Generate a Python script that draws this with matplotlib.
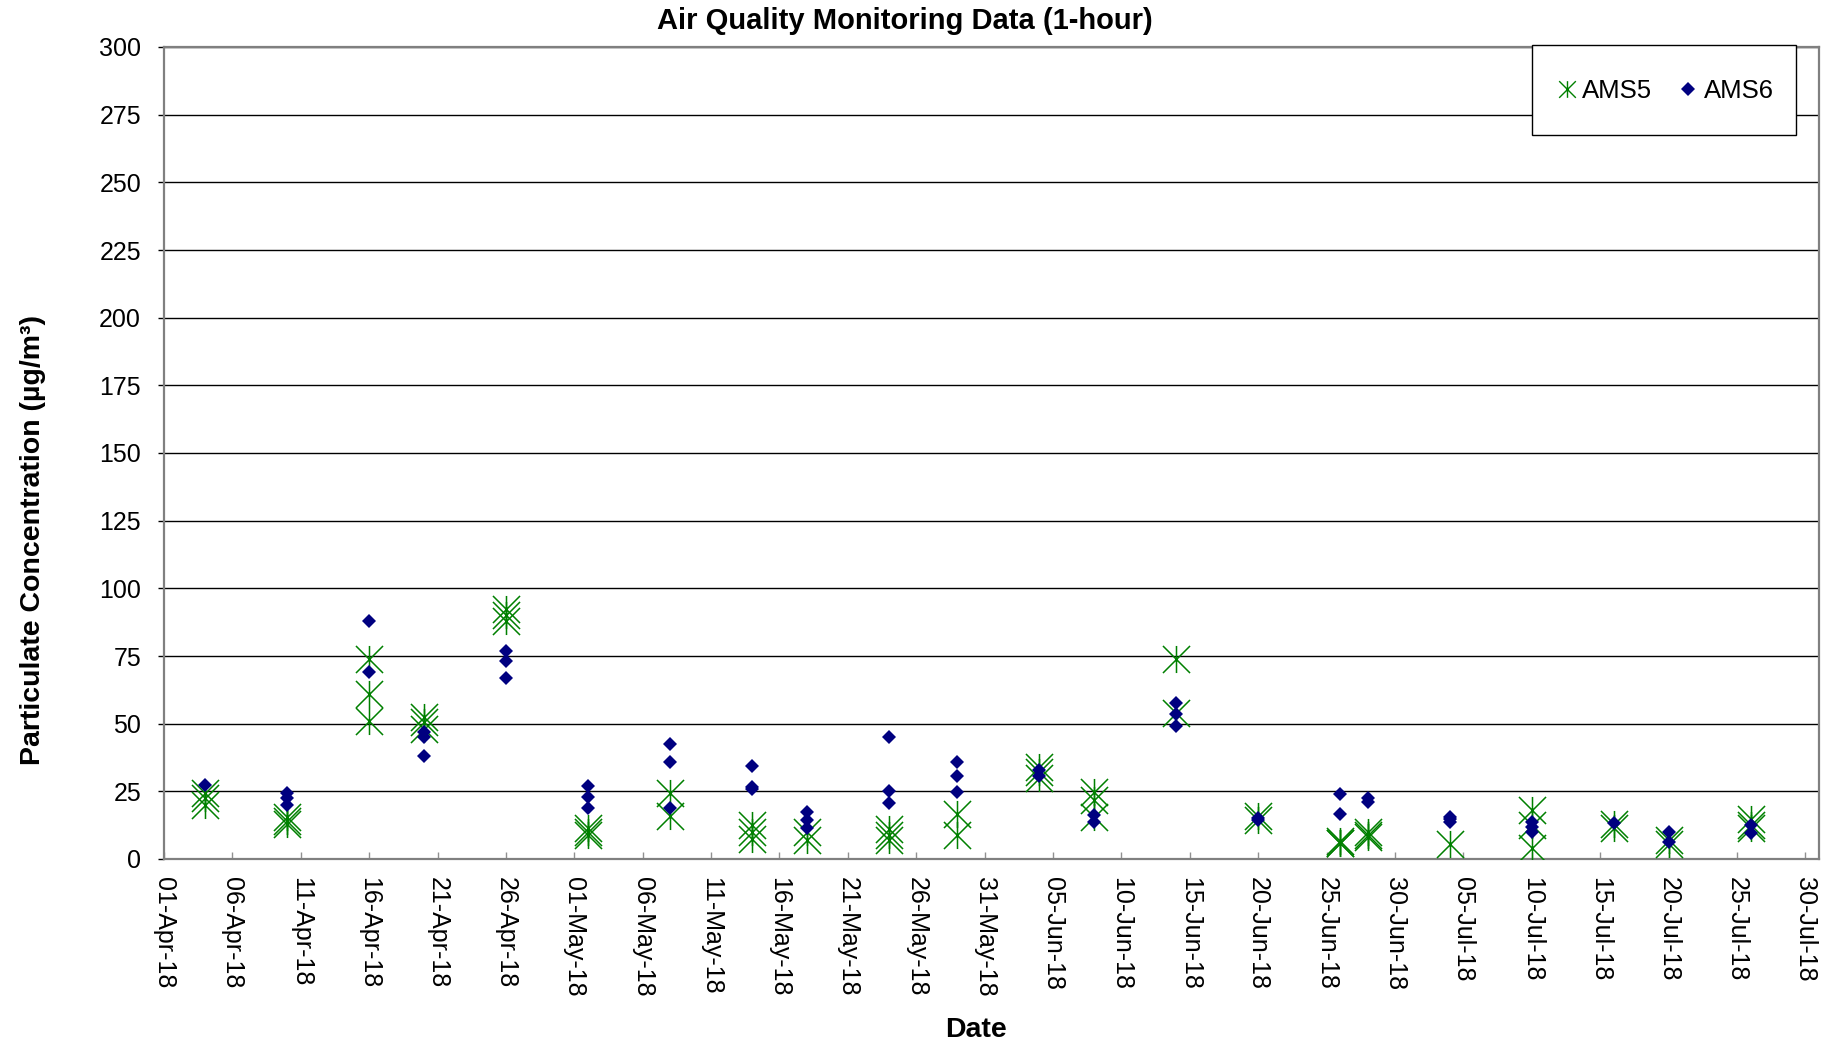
import pandas as pd
import matplotlib
matplotlib.use("Agg")
import matplotlib.pyplot as plt
import matplotlib.dates as mdates
from matplotlib.path import Path
from matplotlib.lines import Line2D
from matplotlib.patches import Rectangle

plt.rcParams['font.family'] = ['Liberation Sans', 'DejaVu Sans']

# AMS5 readings (one entry per 1-hour sample)
ams5_dates = (["2018-04-04"] * 3 + ["2018-04-10"] * 3 + ["2018-04-16"] * 3
              + ["2018-04-20"] * 3 + ["2018-04-26"] * 3 + ["2018-05-02"] * 3
              + ["2018-05-08"] * 2 + ["2018-05-14"] * 3 + ["2018-05-18"] * 2
              + ["2018-05-24"] * 3 + ["2018-05-29"] * 2 + ["2018-06-04"] * 3
              + ["2018-06-08"] * 3 + ["2018-06-14"] * 2 + ["2018-06-20"] * 2
              + ["2018-06-26"] * 3 + ["2018-06-28"] * 3 + ["2018-07-04"] * 1
              + ["2018-07-10"] * 3 + ["2018-07-16"] * 2 + ["2018-07-20"] * 2
              + ["2018-07-26"] * 3)
ams5_values = [24.5, 22.5, 20, 15.5, 14, 13, 74, 61, 51,
               52.5, 50.5, 48, 92.5, 90, 88, 11.5, 10, 9,
               24.5, 16, 12.5, 10, 7.5, 10, 7,
               11, 9, 7, 16.5, 9, 34, 32, 30,
               24.7, 21.8, 15.5, 74, 54, 16, 14.5,
               6.8, 6, 5.8, 10, 9, 8, 5.5,
               18, 12.5, 4, 13, 11.5, 7, 5.5,
               14.7, 12.5, 11.3]

# AMS6 readings
ams6_dates = (["2018-04-04"] * 1 + ["2018-04-10"] * 3 + ["2018-04-16"] * 2
              + ["2018-04-20"] * 3 + ["2018-04-26"] * 3 + ["2018-05-02"] * 3
              + ["2018-05-08"] * 3 + ["2018-05-14"] * 3 + ["2018-05-18"] * 3
              + ["2018-05-24"] * 3 + ["2018-05-29"] * 3 + ["2018-06-04"] * 2
              + ["2018-06-08"] * 2 + ["2018-06-14"] * 3 + ["2018-06-20"] * 2
              + ["2018-06-26"] * 2 + ["2018-06-28"] * 2 + ["2018-07-04"] * 3
              + ["2018-07-10"] * 3 + ["2018-07-16"] * 1 + ["2018-07-20"] * 2
              + ["2018-07-26"] * 2)
ams6_values = [27.5, 24.3, 22.4, 20, 88, 69,
               47, 45, 38, 77, 73, 67, 27, 23, 18.7,
               42.4, 36, 18.7, 34.5, 26.5, 25.8, 17.3, 14.4, 11.3,
               45, 25, 20.8, 36, 30.8, 24.9, 33, 30.5,
               16.3, 13.8, 57.6, 53.5, 49.3, 15, 14.4,
               23.9, 16.5, 22.4, 21.2, 15.7, 14.6, 13.8,
               13.8, 12, 10.1, 13.4, 10.1, 6.4, 12.6, 9.5]

# Excel style "star" marker: X with a vertical bar
star = Path([(-1, -1), (1, 1), (-1, 1), (1, -1), (0, -1), (0, 1)],
            [Path.MOVETO, Path.LINETO] * 3)

green = '#008000'
navy = '#000080'

W, H = 1824, 1048
fig = plt.figure(figsize=(W / 100, H / 100), dpi=100)
ax = fig.add_axes([164 / W, 1 - 859 / H, 1655 / W, 812 / H])

ax.plot(pd.to_datetime(ams5_dates), ams5_values, linestyle='none',
        marker=star, markersize=19.5, markerfacecolor='none',
        markeredgecolor=green, markeredgewidth=1.1, zorder=3)
ax.plot(pd.to_datetime(ams6_dates), ams6_values, linestyle='none',
        marker='D', markersize=7.1, color=navy, markeredgewidth=0, zorder=4)

# axes
ax.set_ylim(0, 300)
ax.set_yticks(range(0, 301, 25))
ax.set_xlim(pd.Timestamp("2018-04-01"), pd.Timestamp("2018-07-31"))
ax.set_xticks(pd.date_range("2018-04-01", "2018-07-30", freq="5D"))
ax.xaxis.set_major_formatter(mdates.DateFormatter('%d-%b-%y'))

ax.grid(axis='y', color='black', linewidth=1.0, zorder=1)
ax.set_axisbelow(True)
for s in ax.spines.values():
    s.set_color('#808080')
    s.set_linewidth(1.6)

ax.tick_params(axis='y', direction='out', length=4.5, width=1,
               color='black', pad=12, labelsize=18)
ax.tick_params(axis='x', direction='in', length=5, width=1,
               color='#909090', pad=13, labelsize=18)
for lab in ax.get_xticklabels():
    lab.set_rotation(-90)
    lab.set_ha('center')
    lab.set_va('top')

# labels
fig.text(905 / W, 1 - 21 / H, 'Air Quality Monitoring Data (1-hour)',
         ha='center', va='center', fontsize=21, fontweight='bold')
fig.text(33 / W, 1 - 540 / H, 'Particulate Concentration (µg/m³)',
         ha='center', va='center', rotation=90, fontsize=20.5,
         fontweight='bold')
fig.text(976 / W, 1 - 1030 / H, 'Date', ha='center', va='center',
         fontsize=20.5, fontweight='bold')

# legend box (drawn by hand so its height matches) and entries
fig.add_artist(Rectangle((1532 / W, 1 - 135 / H), 264 / W, 90 / H,
                         transform=fig.transFigure, facecolor='white',
                         edgecolor='black', linewidth=1.0, zorder=5))
handles = [
    Line2D([], [], linestyle='none', marker=star, markersize=12,
           markerfacecolor='none', markeredgecolor=green,
           markeredgewidth=1.0),
    Line2D([], [], linestyle='none', marker='D', markersize=7.1,
           color=navy, markeredgewidth=0),
]
leg = fig.legend(handles, ['AMS5', 'AMS6'], ncol=2,
                 loc='center', bbox_to_anchor=(1664 / W, 1 - 91 / H),
                 fontsize=18.5, frameon=False, handlelength=1.0,
                 handletextpad=0.1, columnspacing=0.9, borderaxespad=0)
leg.set_zorder(6)

fig.savefig('out.png', dpi=100)
